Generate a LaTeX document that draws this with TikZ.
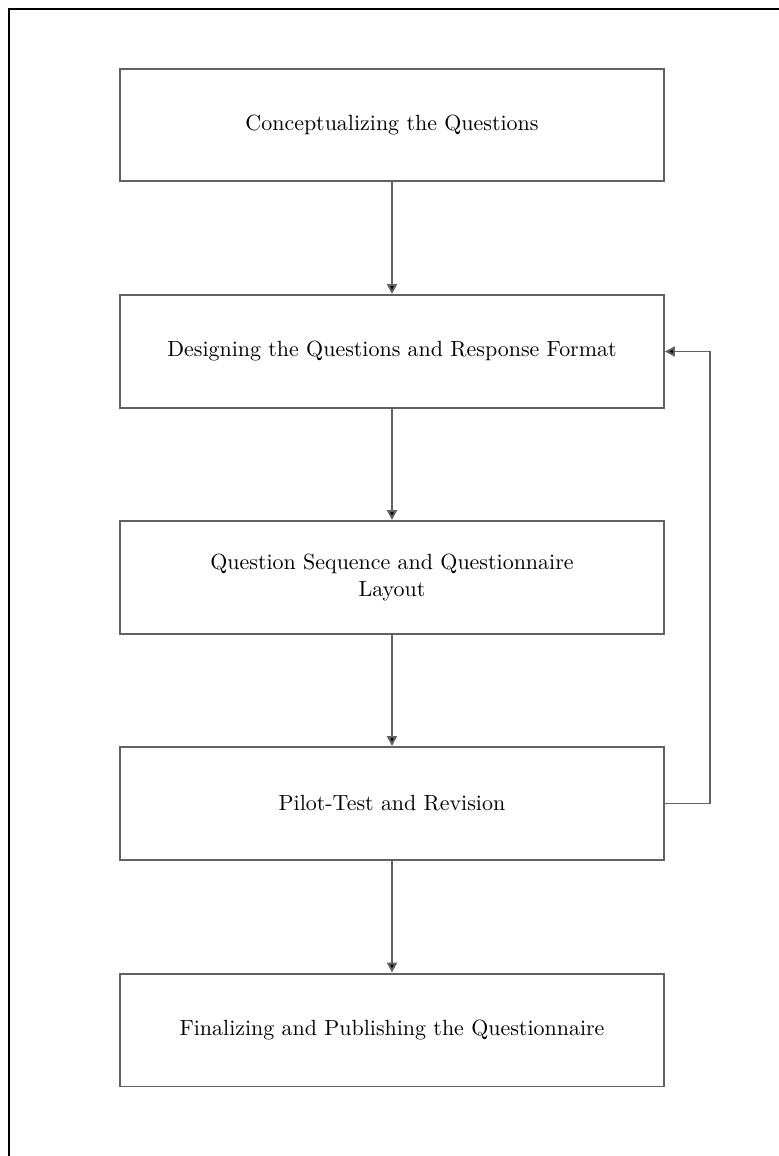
\documentclass[tikz,border=0pt]{standalone}
\usepackage{amsmath}
\usetikzlibrary{arrows.meta}

\tikzset{
  stage/.style={draw=black!62, line width=0.9pt, minimum width=8.704cm, minimum height=1.808cm, align=center, font=\normalsize},
  flow/.style={draw=black!62, line width=0.9pt, -{Triangle[length=4.5pt,width=4.5pt,fill=black]}}
}

\begin{document}
\begin{tikzpicture}[x=0.016cm, y=-0.016cm]
		\useasboundingbox (0, 0) rectangle (778, 1156);
		\draw [line width=1.2pt] (9, 1160) -- (9, 9) -- (782, 9); % Ramen
		
		\node [stage] (concept) at (392, 125) {Conceptualizing the Questions};
		\node [stage] (design) at (392, 351.5) {Designing the Questions and Response Format};
		\node [stage] (layout) at (392, 577.5) {Question Sequence and Questionnaire\\Layout};
		\node [stage] (pilot) at (392, 803.5) {Pilot-Test and Revision};
		\node [stage] (final) at (392, 1030) {Finalizing and Publishing the Questionnaire};
		
		\draw [flow] (concept) -- (design); % Pilarna nedåt
		\draw [flow] (design) -- (layout);
		\draw [flow] (layout) -- (pilot);
		\draw [flow] (pilot) -- (final);
		
		\coordinate (back) at (710, 803.5); % Återkopplingen
		\draw [flow] (pilot.east) -- (back) -- (back |- design.east) -- (design.east);
	\end{tikzpicture}
\end{document}
